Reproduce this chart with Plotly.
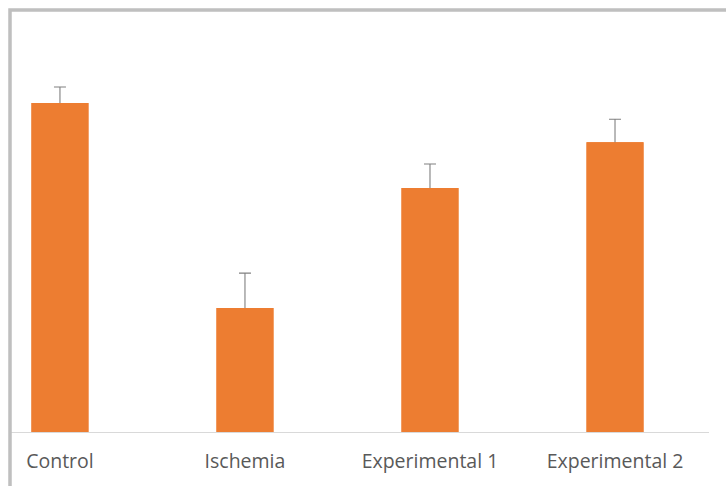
import plotly.graph_objects as go

categories = ["Control", "Ischemia", "Experimental 1", "Experimental 2"]
values = [100.0, 37.7, 74.2, 88.1]
errors = [4.9, 10.6, 7.3, 7.0]

W, H = 726, 486
ml, mr, mt, mb = 10, 17, 10, 54

xs = list(range(len(categories)))

fig = go.Figure()
fig.add_trace(go.Bar(
    x=xs, y=values, width=0.308,
    marker=dict(color="#ED7D31", line=dict(width=0)),
    error_y=dict(type="data", array=errors, symmetric=True,
                 color="#808080", thickness=1.1, width=6),
    hoverinfo="skip",
))
fig.add_trace(go.Bar(
    x=xs, y=values, width=0.308,
    marker=dict(color="#ED7D31", line=dict(width=0)),
))

fig.update_layout(
    width=W, height=H,
    margin=dict(l=ml, r=mr, t=mt, b=mb),
    paper_bgcolor="white", plot_bgcolor="white",
    showlegend=False,
    barmode="overlay",
    font=dict(family="Open Sans", color="#595959", size=19.5),
    xaxis=dict(
        range=[-0.270, 3.508],
        tickmode="array", tickvals=xs, ticktext=categories,
        showline=True, linecolor="#D9D9D9", linewidth=1.3,
        showgrid=False, zeroline=False,
        ticks="outside", ticklen=11, tickcolor="rgba(0,0,0,0)",
        tickfont=dict(family="Open Sans", color="#595959", size=19.5),
    ),
    yaxis=dict(range=[0, 128.3], visible=False, showgrid=False, zeroline=False),
)

fig.add_shape(type="rect", xref="paper", yref="paper",
              x0=0, x1=1.2, y0=-0.3, y1=1,
              line=dict(color="#BFBFBF", width=3.5), fillcolor="rgba(0,0,0,0)",
              layer="above")

fig.write_html(
    "out.html",
    config={"displayModeBar": False},
    post_script="document.body.style.margin='0';document.body.style.overflow='hidden';",
)
